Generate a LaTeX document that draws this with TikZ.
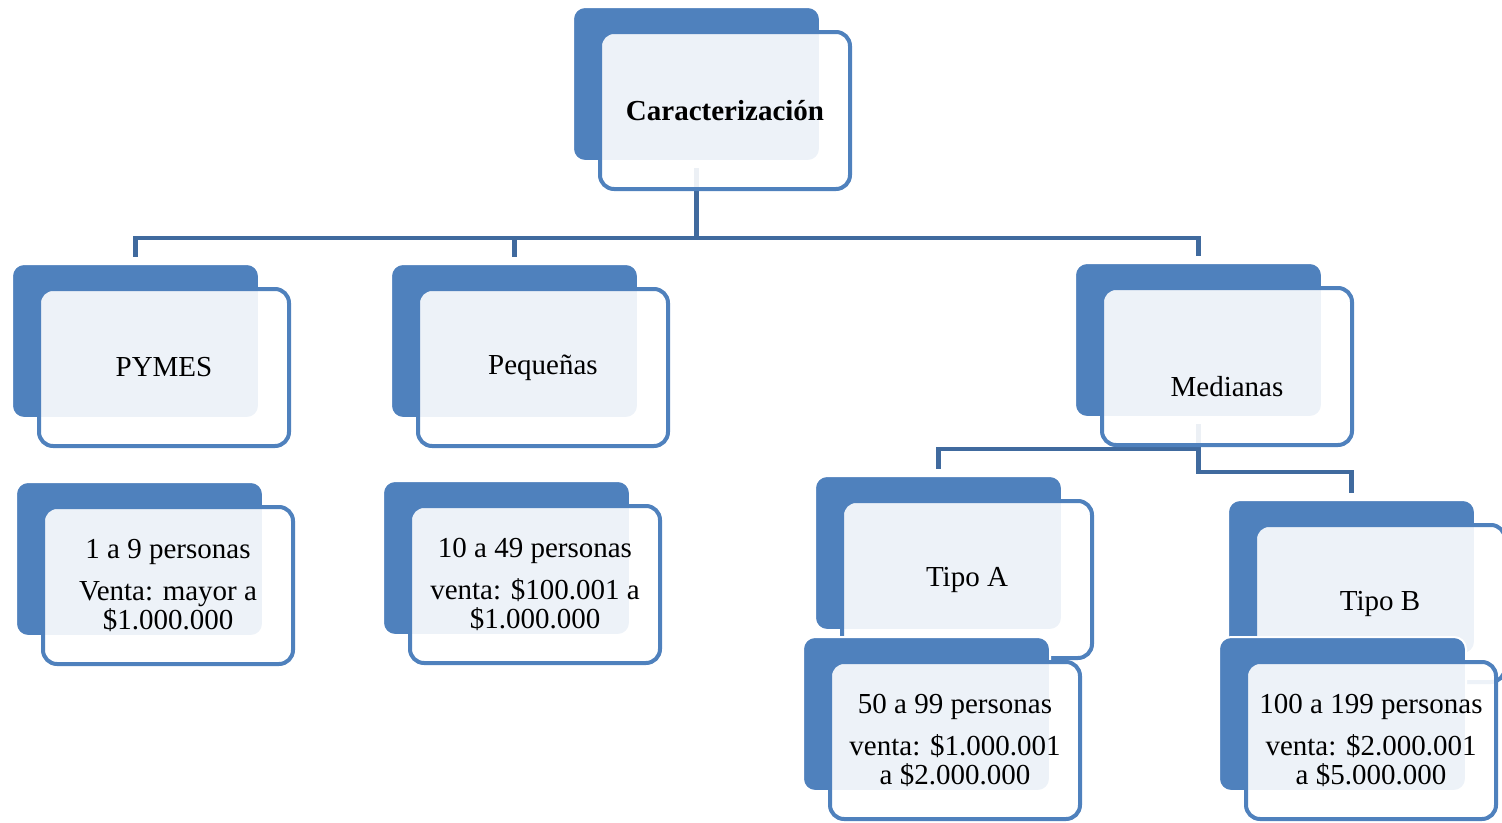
\documentclass[tikz,border=0pt]{standalone}
\usepackage{fontspec}
\setmainfont{Liberation Serif}
\usetikzlibrary{backgrounds}
\definecolor{boxblue}{HTML}{4F81BD}
\definecolor{linkblue}{HTML}{406A9E}
\tikzset{
  backbox/.style={rectangle, rounded corners=12pt, fill=boxblue, draw=white,
    line width=2pt, minimum width=247pt, minimum height=154pt,
    inner sep=0pt, outer sep=0pt, anchor=north west},
  frontbox/.style={rectangle, rounded corners=14pt, draw=boxblue, line width=4pt,
    fill=white, fill opacity=0.9, minimum width=250pt, minimum height=157pt,
    inner sep=0pt, outer sep=0pt, anchor=north west},
  boxtext/.style={align=center, inner sep=0pt, text=black,
    font=\fontsize{29}{29.5}\selectfont},
  conn/.style={draw=linkblue, line width=4.5pt, shorten <=7pt, shorten >=7pt},
}
% #2 name, (#3,#4) top-left corner of the solid back panel, #5 text
\newcommand\orgbox[5][]{%
  \node[backbox] (#2-b) at (#3,#4) {};
  \node[frontbox] (#2) at (#3+27,#4+25) {};
  \node[boxtext,#1] (#2-t) at (#2.center) {#5};
}
\begin{document}
\begin{tikzpicture}[x=1pt,y=-1pt]
\useasboundingbox (0,0) rectangle (1502,822);

\orgbox{car}{573}{7}{\textbf{Caracterización}}
\orgbox{pym}{12}{264}{PYMES}
\orgbox{peq}{391}{264}{Pequeñas}
\orgbox[yshift=-20pt]{med}{1075}{263}{Medianas}
\orgbox{pymd}{16}{482}{1 a 9 personas\\[12.5pt]Venta: mayor a\\\$1.000.000}
\orgbox{peqd}{383}{481}{10 a 49 personas\\[12.5pt]venta: \$100.001 a\\\$1.000.000}
\orgbox{tpa}{815}{476}{Tipo A}
\orgbox{tpad}{803}{637}{50 a 99 personas\\[12.5pt]venta: \$1.000.001\\a \$2.000.000}
\orgbox{tpb}{1228}{500}{Tipo B}
\orgbox{tpbd}{1219}{637}{100 a 199 personas\\[12.5pt]venta: \$2.000.001\\a \$5.000.000}

\begin{scope}[on background layer]
  \draw[conn] (car-b.south) -- ++(0,77) -| (pym-b.north);
  \draw[conn] (car-b.south) -- ++(0,77) -| (peq-b.north);
  \draw[conn] (car-b.south) -- ++(0,77) -| (med-b.north);
  \draw[conn] (med-b.south) -- ++(0,32) -| (tpa-b.north);
  \draw[conn] (med-b.south) -- ++(0,55) -| (tpb-b.north);
\end{scope}
\end{tikzpicture}
\end{document}
